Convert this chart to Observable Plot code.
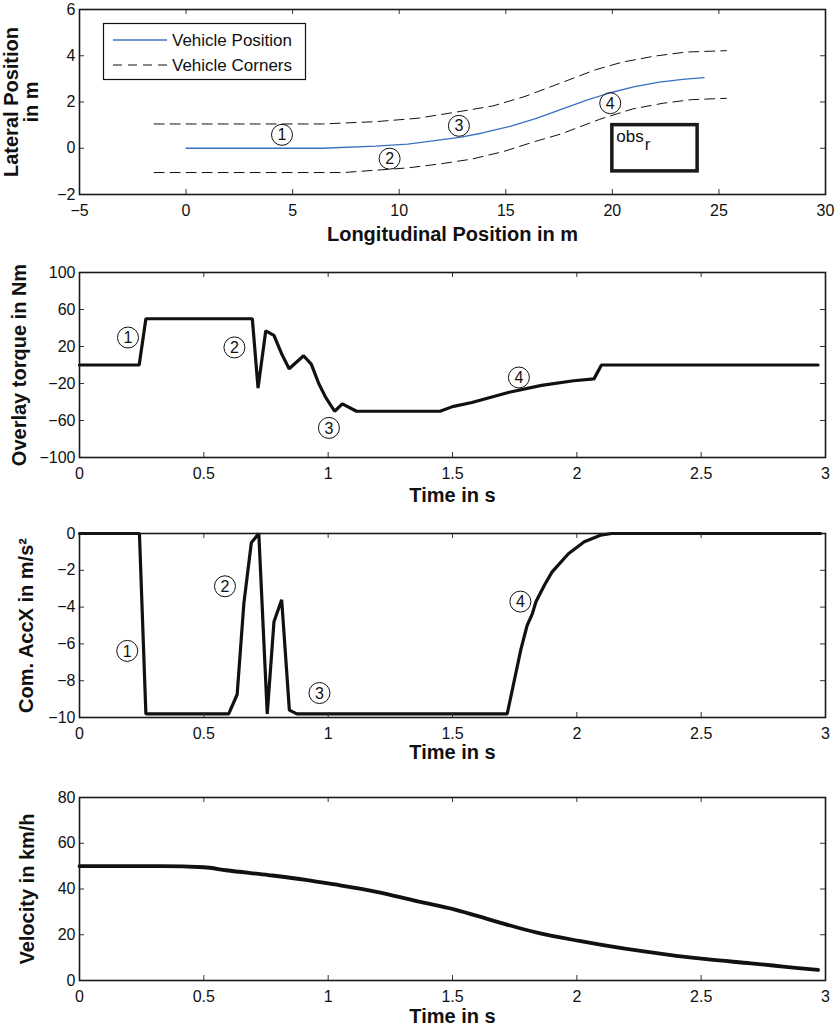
<!DOCTYPE html>
<html>
<head>
<meta charset="utf-8">
<script src="https://cdn.jsdelivr.net/npm/d3@7"></script>
<script src="https://cdn.jsdelivr.net/npm/@observablehq/plot@0.6"></script>
<style>
  html, body { margin: 0; padding: 0; background: #fff; }
  #chart { position: relative; width: 837px; height: 1029px; overflow: hidden; }
  #chart svg { position: absolute; left: 0; }
</style>
</head>
<body>
<div id="chart"></div>
<script>
// ---------- Panel 1: trajectory ----------
const posX = [0, 6.4, 8.9, 10.4, 11.4, 12.9, 13.9, 15.2, 16.4, 17.6, 18.8, 19.9, 21.0, 22.2, 23.3, 24.3];
const posY = [0, 0, 0.09, 0.18, 0.30, 0.48, 0.66, 0.95, 1.28, 1.68, 2.08, 2.40, 2.65, 2.86, 2.98, 3.05];
const upperX = [-1.5, 6.4, 8.9, 10.9, 12.65, 14.4, 15.9, 17.4, 19.2, 20.45, 21.95, 23.46, 25.35];
const upperY = [1.05, 1.05, 1.15, 1.30, 1.56, 1.83, 2.24, 2.76, 3.39, 3.72, 3.98, 4.16, 4.22];
const lowerX = [-1.5, 7.4, 8.9, 10.4, 11.9, 13.4, 14.9, 16.4, 17.6, 19.4, 20.95, 22.4, 23.7, 25.35];
const lowerY = [-1.05, -1.05, -0.95, -0.85, -0.68, -0.47, -0.14, 0.30, 0.62, 1.25, 1.70, 1.95, 2.10, 2.16];
const obstacle = [{x1: 20, x2: 24, y1: -1, y2: 1, name: "obs", sub: "r"}];
const marks1 = [{n: "1", x: 4.5, y: 0.58}, {n: "2", x: 9.55, y: -0.45}, {n: "3", x: 12.8, y: 0.97}, {n: "4", x: 19.9, y: 1.95}];
const xTicks1 = [-5, 0, 5, 10, 15, 20, 25, 30];
const yTicks1 = [-2, 0, 2, 4, 6];
const legendItems = ["Vehicle Position", "Vehicle Corners"];

// ---------- Panel 2: overlay torque ----------
const torqueT = [0, 0.24, 0.267, 0.695, 0.718, 0.749, 0.782, 0.813, 0.843, 0.901, 0.932, 0.962, 0.99, 1.026, 1.057, 1.114, 1.45, 1.50, 1.578, 1.728, 1.858, 1.987, 2.069, 2.099, 2.97];
const torqueV = [0, 0, 50, 50, -25, 37, 32, 12, -4, 10, 1, -20, -35, -50, -42, -50, -50, -45, -40.5, -29.5, -22, -17, -15, 0, 0];
const marks2 = [{n: "1", x: 0.195, y: 29.7}, {n: "2", x: 0.623, y: 19}, {n: "3", x: 1.003, y: -68}, {n: "4", x: 1.767, y: -13.5}];
const yTicks2 = [-100, -60, -20, 20, 60, 100];

// ---------- Panel 3: commanded acceleration ----------
const accT = [0, 0.241, 0.267, 0.600, 0.634, 0.661, 0.691, 0.721, 0.755, 0.782, 0.813, 0.844, 0.874, 1.72, 1.775, 1.80, 1.82, 1.836, 1.87, 1.90, 1.966, 2.03, 2.095, 2.14, 2.98];
const accV = [0, 0, -9.8, -9.8, -8.75, -3.8, -0.5, 0, -9.8, -4.8, -3.6, -9.6, -9.8, -9.8, -6.3, -5.0, -4.4, -3.7, -2.8, -2.1, -1.1, -0.45, -0.09, 0, 0];
const marks3 = [{n: "1", x: 0.192, y: -6.38}, {n: "2", x: 0.585, y: -2.87}, {n: "3", x: 0.965, y: -8.67}, {n: "4", x: 1.773, y: -3.7}];
const yTicks3 = [-10, -8, -6, -4, -2, 0];

// ---------- Panel 4: velocity ----------
const velT = [0, 0.33, 0.5, 0.59, 0.76, 0.91, 1.02, 1.19, 1.36, 1.51, 1.66, 1.84, 2.01, 2.10, 2.27, 2.40, 2.53, 2.70, 2.83, 2.97];
const velV = [50, 50, 49.5, 48.2, 46.1, 44, 42.1, 38.9, 34.6, 31, 26.3, 20.9, 17.3, 15.6, 12.7, 10.8, 9.2, 7.5, 6.1, 4.6];
const yTicks4 = [0, 20, 40, 60, 80];

const tTicks = [0, 0.5, 1, 1.5, 2, 2.5, 3];

// ---------- helpers ----------
const W = 837, ML = 79, MR = 12;
const FONT = "'Liberation Sans', Arial, Helvetica, sans-serif";
const fmt = d => (d < 0 ? "\u2212" + Math.abs(d) : String(d));
const zip = (xs, ys) => xs.map((x, i) => ({x, y: ys[i]}));

function circled(data) {
  return [
    Plot.dot(data, {x: "x", y: "y", r: 10.5, stroke: "#111", strokeWidth: 1, fill: "none"}),
    Plot.text(data, {x: "x", y: "y", text: "n", fontSize: 16, fill: "#111", lineAnchor: "middle", dy: 0.5})
  ];
}

function panel(o) {
  const innerH = o.height - o.mt - o.mb, innerW = W - ML - MR;
  const svg = Plot.plot({
    width: W, height: o.height,
    marginTop: o.mt, marginBottom: o.mb, marginLeft: ML, marginRight: MR,
    x: {domain: o.xDomain},
    y: {domain: o.yDomain},
    style: {fontFamily: FONT, fontSize: "16px", color: "#111", background: "transparent", overflow: "visible"},
    marks: [
      ...o.marks,
      Plot.tickX(o.xTicks, {x: d => d, insetTop: innerH - 5, stroke: "#333", strokeWidth: 1}),
      Plot.tickX(o.xTicks, {x: d => d, insetBottom: innerH - 5, stroke: "#333", strokeWidth: 1}),
      Plot.tickY(o.yTicks, {y: d => d, insetRight: innerW - 5, stroke: "#333", strokeWidth: 1}),
      Plot.tickY(o.yTicks, {y: d => d, insetLeft: innerW - 5, stroke: "#333", strokeWidth: 1}),
      Plot.frame({stroke: "#1a1a1a", strokeWidth: 1.6}),
      Plot.axisX(o.xTicks, {tickSize: 0, tickPadding: 10, tickFormat: fmt, fontSize: 16, label: null}),
      Plot.axisY(o.yTicks, {tickSize: 0, tickPadding: 4, tickFormat: fmt, fontSize: 16, label: null}),
      Plot.text([o.xLabel], {text: d => d, frameAnchor: "bottom", dy: o.xLabelDy, fontWeight: "bold", fontSize: 20, lineAnchor: "middle", textAnchor: "middle", fill: "#111"}),
      Plot.text([o.yLabel], {text: d => d, frameAnchor: "left", dx: o.yLabelDx, rotate: -90, fontWeight: "bold", fontSize: 20, lineAnchor: "middle", textAnchor: "middle", fill: "#111"})
    ]
  });
  svg.style.top = o.top + "px";
  document.getElementById("chart").appendChild(svg);
  return svg;
}

// Panel 1
const svg1 = panel({
  top: 0, height: 250, mt: 9, mb: 56,
  xDomain: [-5, 30], yDomain: [-2, 6], xTicks: xTicks1, yTicks: yTicks1,
  xLabel: "Longitudinal Position in m", xLabelDy: 40.5,
  yLabel: "Lateral Position\nin m", yLabelDx: -58,
  marks: [
    Plot.line(zip(upperX, upperY), {x: "x", y: "y", stroke: "#111", strokeWidth: 1, strokeDasharray: "10,6"}),
    Plot.line(zip(lowerX, lowerY), {x: "x", y: "y", stroke: "#111", strokeWidth: 1, strokeDasharray: "10,6"}),
    Plot.line(zip(posX, posY), {x: "x", y: "y", stroke: "#3a70c0", strokeWidth: 1.3}),
    Plot.rect(obstacle, {x1: "x1", x2: "x2", y1: "y1", y2: "y2", stroke: "#1a1a1a", strokeWidth: 3.5, fill: "none"}),
    Plot.text(obstacle, {x: "x1", y: "y2", text: "name", fontSize: 17, textAnchor: "start", dx: 4, dy: 11.5, lineAnchor: "middle", fill: "#111"}),
    Plot.text(obstacle, {x: "x1", y: "y2", text: "sub", fontSize: 17, textAnchor: "start", dx: 32.5, dy: 19, lineAnchor: "middle", fill: "#111"}),
    ...circled(marks1)
  ]
});

// Legend (inside panel 1, top-left)
{
  const g = d3.select(svg1).append("g").attr("font-family", FONT).attr("font-size", 17)
    .attr("fill", "#111").attr("text-anchor", "start");
  g.append("rect").attr("x", 103.5).attr("y", 23.5).attr("width", 202).attr("height", 56)
    .attr("fill", "#fff").attr("stroke", "#111").attr("stroke-width", 1.2);
  const styles = [{stroke: "#3a70c0", dash: null, w: 1.3}, {stroke: "#111", dash: "9,6", w: 1}];
  legendItems.forEach((label, i) => {
    const y = 40 + i * 25;
    g.append("line").attr("x1", 113).attr("x2", 167).attr("y1", y).attr("y2", y)
      .attr("stroke", styles[i].stroke).attr("stroke-width", styles[i].w)
      .attr("stroke-dasharray", styles[i].dash);
    g.append("text").attr("x", 172).attr("y", y).attr("dy", "0.35em").attr("text-anchor", "start").text(label);
  });
}

// Panel 2
panel({
  top: 250, height: 260, mt: 22, mb: 53,
  xDomain: [0, 3], yDomain: [-100, 100], xTicks: tTicks, yTicks: yTicks2,
  xLabel: "Time in s", xLabelDy: 38.5,
  yLabel: "Overlay torque in Nm", yLabelDx: -60,
  marks: [
    Plot.line(zip(torqueT, torqueV), {x: "x", y: "y", stroke: "#111", strokeWidth: 3.2, strokeLinejoin: "miter"}),
    ...circled(marks2)
  ]
});

// Panel 3
panel({
  top: 510, height: 258, mt: 23, mb: 51,
  xDomain: [0, 3], yDomain: [-10, 0], xTicks: tTicks, yTicks: yTicks3,
  xLabel: "Time in s", xLabelDy: 35,
  yLabel: "Com. AccX in m/s\u00B2", yLabelDx: -53,
  marks: [
    Plot.line(zip(accT, accV), {x: "x", y: "y", stroke: "#111", strokeWidth: 3.2, strokeLinejoin: "miter"}),
    ...circled(marks3)
  ]
});

// Panel 4
panel({
  top: 768, height: 261, mt: 29, mb: 49,
  xDomain: [0, 3], yDomain: [0, 80], xTicks: tTicks, yTicks: yTicks4,
  xLabel: "Time in s", xLabelDy: 36.5,
  yLabel: "Velocity in km/h", yLabelDx: -52,
  marks: [
    Plot.line(zip(velT, velV), {x: "x", y: "y", stroke: "#111", strokeWidth: 3.8, curve: "monotone-x"})
  ]
});
</script>
</body>
</html>
